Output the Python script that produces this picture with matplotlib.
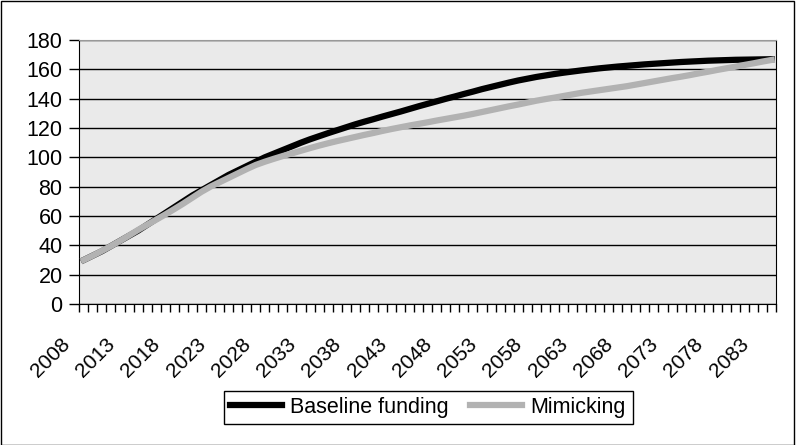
import matplotlib.pyplot as plt
from matplotlib.patches import Rectangle
from matplotlib.transforms import ScaledTranslation

plt.rcParams['font.family'] = ['Liberation Sans', 'DejaVu Sans']

years = list(range(2008, 2085))

baseline = [30.0, 33.0, 36.0, 39.5, 43.0, 46.5, 50.0, 54.0, 58.0, 62.0,
            66.0, 70.0, 74.0, 77.5, 81.0, 84.5, 88.0, 91.0, 94.0, 97.0,
            100.0, 102.5, 105.0, 107.5, 110.0, 112.3, 114.4, 116.5, 118.5, 120.5,
            122.5, 124.3, 126.0, 127.8, 129.5, 131.2, 133.0, 134.8, 136.5, 138.2,
            139.9, 141.5, 143.2, 144.8, 146.5, 148.0, 149.5, 151.0, 152.4, 153.6,
            154.8, 155.8, 156.8, 157.7, 158.5, 159.3, 160.0, 160.7, 161.3, 161.9,
            162.4, 162.9, 163.4, 163.8, 164.2, 164.6, 165.0, 165.3, 165.6, 165.9,
            166.1, 166.3, 166.5, 166.6, 166.7, 166.8, 166.9]

mimicking = [30.0, 33.0, 36.2, 39.5, 43.0, 46.7, 50.5, 54.0, 57.5, 61.0,
             64.7, 68.5, 72.5, 76.5, 80.0, 83.0, 86.0, 89.0, 92.0, 94.8,
             97.0, 99.0, 100.9, 102.7, 104.5, 106.3, 108.0, 109.6, 111.1, 112.5,
             113.9, 115.3, 116.6, 118.0, 119.3, 120.5, 121.7, 122.8, 123.9, 125.1,
             126.2, 127.3, 128.4, 129.6, 130.9, 132.2, 133.5, 134.8, 136.0, 137.3,
             138.6, 139.7, 140.7, 141.8, 142.9, 144.0, 144.9, 145.8, 146.7, 147.6,
             148.5, 149.6, 150.7, 151.8, 152.9, 154.0, 155.0, 156.1, 157.3, 158.4,
             159.6, 160.7, 161.8, 163.0, 164.1, 165.3, 166.4]

label_years = [y for y in years if (y - 2008) % 5 == 0]
y_ticks = list(range(0, 181, 20))

fig = plt.figure(figsize=(7.96, 4.45), dpi=100)
fig.patches.append(Rectangle((0.001, 0.001), 0.997, 0.997, transform=fig.transFigure,
                             fill=False, edgecolor='black', linewidth=1))
ax = fig.add_axes([0.0996, 0.3169, 0.8754, 0.5932])
ax.set_facecolor('#EAEAEA')

x = list(range(len(years)))
ax.plot(x, baseline, color='black', linewidth=4.5, label='Baseline funding', zorder=3)
ax.plot(x, mimicking, color='#B2B2B2', linewidth=4.5, label='Mimicking', zorder=3)

ax.set_xlim(-0.5, len(years) - 0.5)
ax.set_ylim(0, 180)
ax.set_yticks(y_ticks)
ax.yaxis.grid(True, color='black', linewidth=1)
ax.set_axisbelow(True)
ax.tick_params(axis='y', labelsize=15.5, length=7, width=1, direction='out', pad=5)

# year ticks at category boundaries, labels at category centres
ax.set_xticks([i - 0.5 for i in range(len(years) + 1)])
ax.set_xticklabels([])
ax.tick_params(axis='x', which='major', length=6, width=1, direction='out')
ax.set_xticks([years.index(y) for y in label_years], minor=True)
ax.set_xticklabels([str(y) for y in label_years], minor=True, rotation=45,
                   ha='right', va='center', rotation_mode='anchor', fontsize=15)
ax.tick_params(axis='x', which='minor', length=0, pad=14)
shift = ScaledTranslation(-0.17, -0.18, fig.dpi_scale_trans)
for lab in ax.get_xticklabels(minor=True):
    lab.set_transform(lab.get_transform() + shift)

for s in ['left', 'bottom', 'right']:
    ax.spines[s].set_color('black')
ax.spines['top'].set_color('#999999')

fig.legend(loc='center', bbox_to_anchor=(428 / 796, 1 - 407.5 / 445), ncol=2,
           fontsize=15.5, frameon=True, fancybox=False, edgecolor='black',
           handlelength=2.4, columnspacing=1.0, borderpad=0.3, handletextpad=0.4,
           framealpha=1)

fig.savefig('out.png', dpi=100)
